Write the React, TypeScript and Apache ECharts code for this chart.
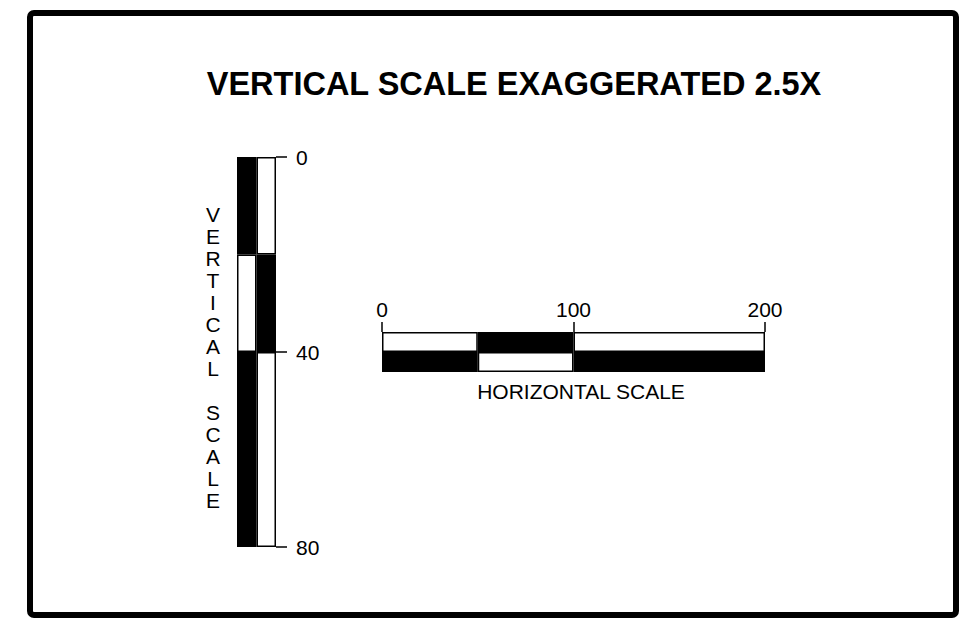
import React, { useEffect, useRef } from "react";
import * as echarts from "echarts";

// Vertical scale: segment lengths (vertical units) and fill pattern per column (1 = black)
const verticalSegments = [20, 20, 40];
const verticalColumns = ["left", "right"];
const verticalPattern = [
  [1, 0, 1],
  [0, 1, 0],
];
const verticalTickStep = 40;

// Horizontal scale: segment lengths (horizontal units) and fill pattern per row (1 = black)
const horizontalSegments = [50, 50, 100];
const horizontalRows = ["top", "bottom"];
const horizontalPattern = [
  [0, 1, 0],
  [1, 0, 1],
];
const horizontalTickStep = 100;

const titleText = "VERTICAL SCALE EXAGGERATED 2.5X";
const verticalName = "VERTICAL SCALE";
const horizontalName = "HORIZONTAL SCALE";

const FONT = "'Liberation Sans', Arial, Helvetica, sans-serif";

export default function App() {
  const ref = useRef<HTMLDivElement>(null);
  useEffect(() => {
    if (!ref.current) return;
    const chart = echarts.init(ref.current, undefined, { renderer: "svg" });

    const vSeries = verticalSegments.map((len, si) => ({
      type: "bar",
      stack: "v",
      xAxisIndex: 0,
      yAxisIndex: 0,
      barWidth: "100%",
      barGap: 0,
      barCategoryGap: 0,
      data: verticalColumns.map((_, ci) => ({
        value: len,
        itemStyle: {
          color: verticalPattern[ci][si] ? "#000" : "#fff",
          borderColor: "#000",
          borderWidth: 1.5,
        },
      })),
    }));

    const hSeries = horizontalSegments.map((len, si) => ({
      type: "bar",
      stack: "h",
      xAxisIndex: 1,
      yAxisIndex: 1,
      barWidth: "100%",
      barGap: 0,
      barCategoryGap: 0,
      data: horizontalRows.map((_, ri) => ({
        value: len,
        itemStyle: {
          color: horizontalPattern[ri][si] ? "#000" : "#fff",
          borderColor: "#000",
          borderWidth: 1.5,
        },
      })),
    }));

    const vMax = verticalSegments.reduce((a, b) => a + b, 0);
    const hMax = horizontalSegments.reduce((a, b) => a + b, 0);

    chart.setOption({
      animation: false,
      backgroundColor: "#fff",
      title: {
        text: titleText,
        left: 509,
        top: 62,
        textAlign: "center",
        textStyle: { fontSize: 32.5, fontWeight: "bold", fontFamily: FONT, color: "#000" },
      },
      grid: [
        { left: 237, top: 157, width: 39, height: 390 },
        { left: 382, top: 332, width: 383, height: 40 },
      ],
      xAxis: [
        {
          gridIndex: 0,
          type: "category",
          data: verticalColumns,
          axisLine: { show: false },
          axisTick: { show: false },
          axisLabel: { show: false },
        },
        {
          gridIndex: 1,
          type: "value",
          position: "top",
          min: 0,
          max: hMax,
          interval: horizontalTickStep,
          splitLine: { show: false },
          axisLine: { show: true, onZero: false, lineStyle: { color: "#000", width: 0 } },
          axisTick: { show: true, inside: false, length: 10, lineStyle: { color: "#000", width: 1.5 } },
          axisLabel: {
            margin: 12,
            fontSize: 21,
            fontFamily: FONT,
            color: "#000",
          },
        },
      ],
      yAxis: [
        {
          gridIndex: 0,
          type: "value",
          inverse: true,
          position: "right",
          min: 0,
          max: vMax,
          interval: verticalTickStep,
          splitLine: { show: false },
          axisLine: { show: true, onZero: false, lineStyle: { color: "#000", width: 0 } },
          axisTick: { show: true, inside: false, length: 11, lineStyle: { color: "#000", width: 1.5 } },
          axisLabel: {
            margin: 20,
            fontSize: 21,
            fontFamily: FONT,
            color: "#000",
          },
        },
        {
          gridIndex: 1,
          type: "category",
          data: horizontalRows,
          inverse: true,
          axisLine: { show: false },
          axisTick: { show: false },
          axisLabel: { show: false },
        },
      ],
      graphic: [
        {
          type: "rect",
          shape: { x: 30, y: 13, width: 926, height: 602, r: 4 },
          style: { fill: "none", stroke: "#000", lineWidth: 6 },
          silent: true,
        },
        {
          type: "text",
          x: 213,
          y: 203,
          style: {
            text: verticalName.split("").join("\n"),
            fontSize: 21,
            fontFamily: FONT,
            lineHeight: 22,
            textAlign: "center",
            textVerticalAlign: "top",
            fill: "#000",
          },
        },
        {
          type: "text",
          x: 581,
          y: 391,
          style: {
            text: horizontalName,
            fontSize: 21,
            fontFamily: FONT,
            textAlign: "center",
            textVerticalAlign: "middle",
            fill: "#000",
          },
        },
      ],
      series: [...vSeries, ...hSeries],
    });
    return () => chart.dispose();
  }, []);
  return (
    <div
      ref={ref}
      style={{ position: "fixed", left: 0, top: 0, width: 967, height: 625 }}
    />
  );
}
